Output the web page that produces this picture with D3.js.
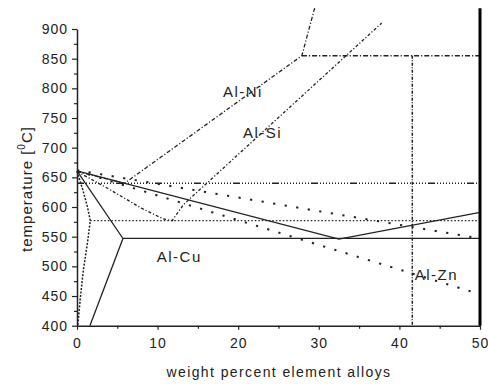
<!DOCTYPE html>
<meta charset="utf-8">
<style>
body { margin: 0; background: #fff; }
text { font-family: "Liberation Sans", Arial, sans-serif; fill: #222; }
.line { fill: none; stroke: #222; }
</style>
<body>
<script src="https://cdnjs.cloudflare.com/ajax/libs/d3/7.8.5/d3.min.js"></script>
<script>
// ticks
var xTicks = [0, 10, 20, 30, 40, 50];
var xMinor = [5, 15, 25, 35, 45];
var yTicks = [400, 450, 500, 550, 600, 650, 700, 750, 800, 850, 900];
var yMinor = [425, 475, 525, 575, 625, 675, 725, 775, 825, 875];

// Al-Cu (solid)
var alCuLiquidus = [[0, 661], [32.5, 546], [50, 591]];
var alCuSolidus = [[0, 661], [5.7, 547], [1.6, 400]];
var alCuEutectic = [[5.7, 547], [50, 547]];

// Al-Zn (big dots)
var alZnUpper = [[0, 662], [50, 547]];
var alZnLower = [[0, 661], [50, 453]];

// Al-Si (dash dot dot)
var alSiLiquidus = [[0, 660], [4, 630], [8, 598], [10.7, 580], [11.8, 577], [13.2, 604], [16.5, 645], [37.8, 910]];
var alSiSolidus = [[0, 660], [0.7, 630], [1.3, 600], [1.65, 577], [1.3, 540], [0.8, 495], [0.4, 445], [0.1, 400]];
var alSiEutectic = [[1.65, 577], [50, 577]];

// Al-Ni (dash dot)
var alNiLiquidus = [[0, 660], [5.9, 640], [27.9, 855], [29.5, 936]];
var alNiEutectic = [[0, 640], [50, 640]];
var alNiPeritectic = [[27.9, 855], [50, 855]];
var alNiVertical = [[41.6, 855], [41.6, 400]];

var labels = [
  {t: "Al-Ni", x: 18.1, y: 785},
  {t: "Al-Si", x: 20.6, y: 716},
  {t: "Al-Cu", x: 9.9, y: 507},
  {t: "Al-Zn", x: 41.9, y: 477}
];

var w = 488, h = 384;
var svg = d3.select("body").append("svg").attr("width", w).attr("height", h);

var x = d3.scaleLinear().domain([0, 50]).range([77, 480]);
var y = d3.scaleLinear().domain([400, 900]).range([325.7, 29]);

var line = d3.line().x(function(d) { return x(d[0]); }).y(function(d) { return y(d[1]); });

function draw(data, dash, width) {
  svg.append("path")
    .datum(data)
    .attr("class", "line")
    .attr("d", line)
    .attr("stroke-width", width || 1.2)
    .attr("stroke-dasharray", dash || null);
}

// Al-Cu
draw(alCuLiquidus, null, 1.3);
draw(alCuSolidus, null, 1.3);
draw(alCuEutectic, null, 1.3);
// Al-Zn
draw(alZnUpper, "2.2,9.5", 2);
draw(alZnLower, "2.2,9.5", 2);
// Al-Si
draw(alSiLiquidus, "3,2,1.2,2", 1.3);
draw(alSiSolidus, "2,1.5", 1.5);
draw(alSiEutectic, "1.5,2", 1.3);
// Al-Ni
draw(alNiLiquidus, "4,2,1.2,2", 1.3);
draw(alNiEutectic, "7,2,1,2,1,2,1,2,1,2,1,2,1,2,1,2,1,2,1,2,1,2", 1.4);
draw(alNiPeritectic, "5,2,1.2,2", 1.4);
draw(alNiVertical, "3,1.5,1,1.5", 1.5);

// axes
svg.append("g").attr("transform", "translate(" + x(0) + ",0)")
  .call(d3.axisLeft(y).tickValues(yTicks).tickSize(5).tickSizeOuter(0).tickPadding(4));
svg.append("g").attr("transform", "translate(" + x(0) + ",0)")
  .call(d3.axisLeft(y).tickValues(yMinor).tickSize(3).tickSizeOuter(0).tickFormat(""))
  .select(".domain").remove();

svg.append("g").attr("transform", "translate(0," + y(400) + ")")
  .call(d3.axisBottom(x).tickValues(xTicks).tickSize(4).tickSizeOuter(0).tickPadding(8));
svg.append("g").attr("transform", "translate(0," + y(400) + ")")
  .call(d3.axisBottom(x).tickValues(xMinor).tickSize(3).tickSizeOuter(0).tickFormat(""))
  .select(".domain").remove();

svg.selectAll(".tick line").attr("stroke", "#222").attr("stroke-width", 1.2);
svg.selectAll(".domain").attr("stroke", "#222").attr("stroke-width", 1.5);
svg.selectAll(".tick text")
  .style("font-family", '"Liberation Sans", Arial, sans-serif')
  .style("font-size", "14px")
  .style("letter-spacing", "1px")
  .attr("fill", "#222");

// right frame line
svg.append("line")
  .attr("x1", x(50)).attr("x2", x(50))
  .attr("y1", y(400)).attr("y2", y(935))
  .attr("stroke", "#000").attr("stroke-width", 3);

// series labels
svg.selectAll(".lbl").data(labels).enter().append("text")
  .attr("class", "lbl")
  .attr("x", function(d) { return x(d.x); })
  .attr("y", function(d) { return y(d.y); })
  .style("font-size", "15px")
  .style("letter-spacing", "1.5px")
  .text(function(d) { return d.t; });

// axis titles
svg.append("text")
  .attr("x", 279).attr("y", 377)
  .attr("text-anchor", "middle")
  .style("font-size", "14px")
  .style("letter-spacing", "1.4px")
  .text("weight percent element alloys");

var yt = svg.append("text")
  .attr("transform", "translate(32,189) rotate(-90)")
  .attr("text-anchor", "middle")
  .style("font-size", "15px")
  .style("letter-spacing", "1px");
yt.append("tspan").text("temperature [");
yt.append("tspan").attr("dy", -7).style("font-size", "10px").text("0");
yt.append("tspan").attr("dy", 7).text("C]");
</script>
</body>
